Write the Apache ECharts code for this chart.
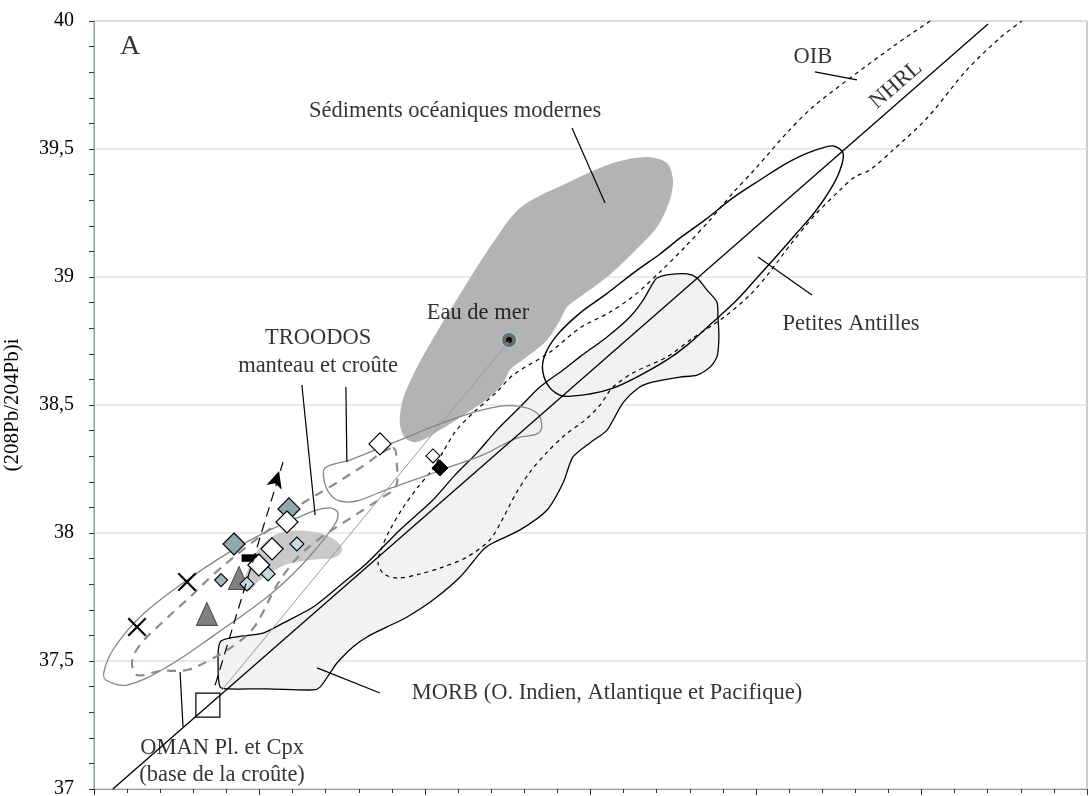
<!DOCTYPE html>
<html>
<head>
<meta charset="utf-8">
<title>(208Pb/204Pb)i</title>
<script src="https://cdn.jsdelivr.net/npm/echarts/dist/echarts.min.js"></script>
<style>
html, body { margin: 0; padding: 0; background: #fff; }
#chart { width: 1088px; height: 796px; }
</style>
</head>
<body>
<div id="chart"></div>
<script>
var FONT = 'Liberation Serif'

// x = (206Pb/204Pb)i, y = (208Pb/204Pb)i
var nhrl = [[17.057, 37.0], [19.701, 39.988]]

var oib = [
    [19.526, 40.0], [19.42, 39.906], [19.284, 39.777], [19.172, 39.664], [19.093, 39.563],
    [19.003, 39.43], [18.93, 39.328], [18.861, 39.223], [18.785, 39.117], [18.71, 39.02],
    [18.634, 38.93], [18.559, 38.863], [18.468, 38.801], [18.378, 38.707], [18.266, 38.617],
    [18.217, 38.551], [18.145, 38.469], [18.091, 38.395], [18.054, 38.316], [18.021, 38.246],
    [17.979, 38.18], [17.933, 38.098], [17.894, 38.012], [17.867, 37.934], [17.858, 37.883],
    [17.876, 37.84], [17.918, 37.824], [17.985, 37.84], [18.045, 37.863], [18.127, 37.906],
    [18.196, 37.973], [18.233, 38.051], [18.272, 38.148], [18.317, 38.238], [18.369, 38.316],
    [18.423, 38.383], [18.483, 38.441], [18.529, 38.5], [18.565, 38.566], [18.628, 38.625],
    [18.731, 38.688], [18.81, 38.762], [18.9, 38.84], [18.982, 38.93], [19.042, 39.02],
    [19.103, 39.125], [19.178, 39.242], [19.254, 39.34], [19.299, 39.391], [19.344, 39.418],
    [19.414, 39.496], [19.517, 39.621], [19.637, 39.809], [19.737, 39.934], [19.803, 40.0]
]

var petitesAntilles = [
    [19.263, 39.484], [19.254, 39.418], [19.224, 39.34], [19.178, 39.254], [19.118, 39.164],
    [19.057, 39.074], [18.997, 38.988], [18.936, 38.902], [18.87, 38.824], [18.792, 38.734],
    [18.731, 38.676], [18.64, 38.609], [18.568, 38.566], [18.498, 38.543], [18.417, 38.535],
    [18.378, 38.566], [18.356, 38.629], [18.362, 38.695], [18.399, 38.773], [18.468, 38.859],
    [18.544, 38.93], [18.634, 39.02], [18.71, 39.09], [18.77, 39.152], [18.846, 39.223],
    [18.93, 39.309], [19.012, 39.379], [19.093, 39.445], [19.163, 39.488], [19.233, 39.512]
]

var morb = [
    [17.384, 37.578], [17.511, 37.609], [17.571, 37.648], [17.662, 37.711], [17.752, 37.805],
    [17.825, 37.883], [17.924, 38.012], [18.024, 38.129], [18.091, 38.227], [18.157, 38.313],
    [18.217, 38.402], [18.287, 38.492], [18.347, 38.57], [18.417, 38.637], [18.468, 38.688],
    [18.55, 38.766], [18.619, 38.844], [18.659, 38.91], [18.689, 38.977], [18.701, 38.996],
    [18.731, 39.008], [18.792, 39.012], [18.822, 38.996], [18.852, 38.949], [18.882, 38.902],
    [18.885, 38.844], [18.888, 38.766], [18.882, 38.688], [18.861, 38.648], [18.822, 38.617],
    [18.77, 38.609], [18.689, 38.59], [18.649, 38.57], [18.598, 38.508], [18.55, 38.402],
    [18.498, 38.352], [18.447, 38.297], [18.417, 38.195], [18.369, 38.09], [18.287, 38.012],
    [18.205, 37.961], [18.175, 37.934], [18.106, 37.828], [18.024, 37.738], [17.946, 37.672],
    [17.885, 37.633], [17.825, 37.594], [17.782, 37.555], [17.734, 37.492], [17.713, 37.453],
    [17.683, 37.398], [17.662, 37.387], [17.523, 37.391], [17.402, 37.391], [17.381, 37.398],
    [17.375, 37.477]
]

var sediments = [
    [18.287, 39.27], [18.429, 39.367], [18.568, 39.445], [18.671, 39.469], [18.731, 39.445],
    [18.749, 39.379], [18.74, 39.301], [18.701, 39.195], [18.628, 39.094], [18.55, 39.0],
    [18.468, 38.922], [18.429, 38.883], [18.408, 38.832], [18.369, 38.754], [18.308, 38.688],
    [18.257, 38.637], [18.236, 38.586], [18.196, 38.531], [18.127, 38.469], [18.045, 38.402],
    [17.976, 38.355], [17.94, 38.371], [17.924, 38.43], [17.933, 38.52], [17.976, 38.648],
    [18.045, 38.805], [18.127, 38.977], [18.205, 39.133]
]

var troodosBlob = [
    [17.45, 37.777], [17.471, 37.875], [17.508, 37.953], [17.562, 38.0], [17.643, 38.008],
    [17.713, 37.984], [17.749, 37.941], [17.731, 37.906], [17.653, 37.895], [17.586, 37.879],
    [17.538, 37.848], [17.495, 37.809], [17.471, 37.777]
]

var troodosEllipse = [
    [17.036, 37.426], [17.1, 37.406], [17.221, 37.477], [17.372, 37.609], [17.523, 37.75],
    [17.622, 37.867], [17.722, 38.023], [17.737, 38.078], [17.713, 38.098], [17.674, 38.09],
    [17.613, 38.059], [17.532, 38.012], [17.42, 37.934], [17.269, 37.805], [17.139, 37.672],
    [17.057, 37.543], [17.03, 37.457]
]

var troodosCrust = [
    [17.698, 38.254], [17.773, 38.285], [17.903, 38.352], [18.075, 38.441], [18.196, 38.488],
    [18.278, 38.496], [18.338, 38.469], [18.353, 38.414], [18.338, 38.387], [18.278, 38.371],
    [18.175, 38.305], [18.075, 38.258], [17.976, 38.211], [17.873, 38.164], [17.794, 38.125],
    [17.743, 38.125], [17.713, 38.152], [17.695, 38.207]
]

var troodosDashed = [
    [17.903, 38.332], [17.915, 38.266], [17.912, 38.18], [17.873, 38.141], [17.813, 38.09],
    [17.752, 38.039], [17.683, 37.98], [17.622, 37.914], [17.577, 37.844], [17.541, 37.77],
    [17.511, 37.691], [17.477, 37.621], [17.426, 37.563], [17.35, 37.504], [17.281, 37.465],
    [17.199, 37.461], [17.13, 37.445], [17.115, 37.496], [17.139, 37.563], [17.214, 37.66],
    [17.29, 37.75], [17.366, 37.844], [17.456, 37.941], [17.547, 38.031], [17.622, 38.109],
    [17.713, 38.18], [17.804, 38.254]
]

var seawaterLine = [[18.254, 38.75], [17.387, 37.387]]
var arrowLine = [[17.366, 37.406], [17.571, 38.277]]
var arrowHead = [[17.559, 38.242]]

// échantillons
var crosses = [[17.13, 37.633], [17.281, 37.809]]
var triangles = [[17.341, 37.684], [17.438, 37.824]]
var omanSquare = [[17.344, 37.328]]
var blackBar = [[17.471, 37.902]]
var greyBlueDiamond = [[17.384, 37.816]]
var blueDiamonds = [[17.589, 38.094], [17.423, 37.957]]
var whiteDiamonds = [[17.864, 38.348], [17.583, 38.043], [17.538, 37.938], [17.498, 37.875]]
var paleDiamonds = [[17.613, 37.957], [17.526, 37.84], [17.462, 37.801]]
var smallWhiteDiamond = [[18.024, 38.301]]
var blackDiamond = [[18.045, 38.254]]
var seawater = [[18.254, 38.754]]

// traits de rappel
var leaders = [
    [[18.444, 39.582], [18.544, 39.289]],
    [[19.178, 39.801], [19.305, 39.77]],
    [[19.006, 39.078], [19.169, 38.93]],
    [[17.628, 38.578], [17.668, 38.07]],
    [[17.761, 38.57], [17.764, 38.277]],
    [[17.26, 37.457], [17.269, 37.242]],
    [[17.674, 37.473], [17.864, 37.375]]
]

var labelText = [
    'A', 'Sédiments océaniques modernes', 'Eau de mer', 'TROODOS', 'manteau et croûte',
    'OMAN Pl. et Cpx', '(base de la croûte)', 'MORB (O. Indien, Atlantique et Pacifique)',
    'Petites Antilles', 'OIB', 'NHRL'
]
var labelPos = [
    [17.109, 39.898], [18.091, 39.648], [18.16, 38.859], [17.677, 38.762], [17.677, 38.652],
    [17.387, 37.16], [17.387, 37.055], [18.55, 37.375], [19.287, 38.816], [19.172, 39.859],
    [19.423, 39.75]
]
var labelSize = [28, 22.5, 22.5, 22.5, 22.5, 22.5, 22.5, 22.5, 22.5, 22.5, 22.5]
var labelRotate = [0, 0, 0, 0, 0, 0, 0, 0, 0, 0, 41]

var CROSS = "path://M0,0.8L0.8,0L5,4.2L9.2,0L10,0.8L5.8,5L10,9.2L9.2,10L5,5.8L0.8,10L0,9.2L4.2,5Z"

function shape(type, pts, style, smooth) {
    return {
        type: "custom",
        silent: true,
        data: pts,
        renderItem: function (params, api) {
            if (params.dataIndex !== 0) return null
            return {
                type: type,
                shape: {
                    points: pts.map(function (p) { return api.coord(p) }),
                    smooth: smooth,
                },
                style: style,
            }
        },
    }
}

function segment(pts, color, width, dash) {
    return {
        type: "line",
        silent: true,
        data: pts,
        symbol: "none",
        lineStyle: { color: color, width: width, type: dash || "solid" },
    }
}

function marks(pts, symbol, size, fill, stroke, width, rotate) {
    return {
        type: "scatter",
        silent: true,
        data: pts,
        symbol: symbol,
        symbolSize: size,
        symbolRotate: rotate || 0,
        itemStyle: { color: fill, borderColor: stroke, borderWidth: width, opacity: 1 },
    }
}

var series = [
    shape("polygon", sediments, { fill: "#b3b3b3", stroke: null }, 0.3),
    shape("polygon", morb, { fill: "#f2f2f2", stroke: "#000", lineWidth: 1.3 }, 0.25),
    shape("polygon", troodosBlob, { fill: "#c9c9c9", stroke: null }, 0.4),
    shape("polyline", oib, { fill: null, stroke: "#000", lineWidth: 1.2, lineDash: [4, 4] }, 0.3),
    shape("polygon", petitesAntilles, { fill: null, stroke: "#000", lineWidth: 1.4 }, 0.3),
    shape("polygon", troodosEllipse, { fill: null, stroke: "#858585", lineWidth: 1.3 }, 0.35),
    shape("polygon", troodosCrust, { fill: null, stroke: "#858585", lineWidth: 1.3 }, 0.35),
    shape("polygon", troodosDashed, { fill: null, stroke: "#8c8c8c", lineWidth: 2.2, lineDash: [9, 7] }, 0.35),
    segment(nhrl, "#000", 1.3),
    segment(seawaterLine, "#9a9a9a", 1),
    segment(arrowLine, "#000", 1.2, [10, 6]),
]
leaders.forEach(function (l) {
    series.push(segment(l, "#000", 1.2))
})

series.push(
    marks(arrowHead, "arrow", [12, 17], "#000", "#000", 0, -17),
    marks(crosses, CROSS, 19, "#000", "#000", 0),
    marks(omanSquare, "rect", 24, "#fff", "#000", 1.2),
    marks(triangles, "triangle", [21, 23], "#808080", "#4d4d4d", 1),
    marks(blackBar, "rect", [16, 7], "#000", "#000", 0.5),
    marks(greyBlueDiamond, "diamond", 13, "#a2b5bb", "#000", 1.1),
    marks(blueDiamonds, "diamond", 22, "#8fa8b0", "#000", 1.2),
    marks(whiteDiamonds, "diamond", 22, "#fff", "#000", 1.2),
    marks(paleDiamonds, "diamond", 14, "#c6dbe2", "#000", 1.1),
    marks(smallWhiteDiamond, "diamond", 14, "#fff", "#000", 1.1),
    marks(blackDiamond, "diamond", 16, "#000", "#000", 1),
    marks(seawater, "circle", 16, "#6b6b6b", "#a5c4cc", 2),
    marks(seawater, "circle", 6, "#000", "#000", 0)
)

series.push({
    type: "scatter",
    silent: true,
    z: 10,
    symbolSize: 1,
    itemStyle: { color: "rgba(0,0,0,0)" },
    data: labelText.map(function (t, i) {
        return {
            value: labelPos[i],
            label: {
                show: true,
                position: "inside",
                formatter: t,
                rotate: labelRotate[i],
                fontFamily: FONT,
                fontSize: labelSize[i],
                color: "#000",
            },
        }
    }),
})

var chart = echarts.init(document.getElementById("chart"))
chart.setOption({
    animation: false,
    backgroundColor: "#fff",
    grid: {
        left: 94,
        right: 1,
        top: 21,
        bottom: 7,
        outerBoundsMode: "none",
        containLabel: false,
        show: true,
        borderColor: "#87a2a7",
        borderWidth: 1,
    },
    xAxis: {
        type: "value",
        min: 17,
        max: 20,
        interval: 0.5,
        axisLine: { lineStyle: { color: "#87a2a7", width: 1 } },
        axisTick: { show: true, length: 6, lineStyle: { color: "#333" } },
        minorTick: { show: true, splitNumber: 5, length: 4, lineStyle: { color: "#333" } },
        axisLabel: { show: false },
        splitLine: { show: false },
    },
    yAxis: {
        type: "value",
        min: 37,
        max: 40,
        interval: 0.5,
        name: "(208Pb/204Pb)i",
        nameLocation: "middle",
        nameRotate: 90,
        nameGap: 71,
        nameTextStyle: { fontFamily: FONT, fontSize: 21, color: "#000" },
        axisLine: { show: true, lineStyle: { color: "#87a2a7", width: 1 } },
        axisTick: { show: true, length: 5, lineStyle: { color: "#333" } },
        minorTick: { show: true, splitNumber: 5, length: 5, lineStyle: { color: "#333" } },
        axisLabel: {
            margin: 20,
            fontFamily: FONT,
            fontSize: 20,
            color: "#000",
            formatter: function (v) { return String(v).replace(".", ",") },
        },
        splitLine: { show: true, lineStyle: { color: "#e3e3e3", width: 1.5 } },
    },
    series: series,
})
</script>
</body>
</html>
